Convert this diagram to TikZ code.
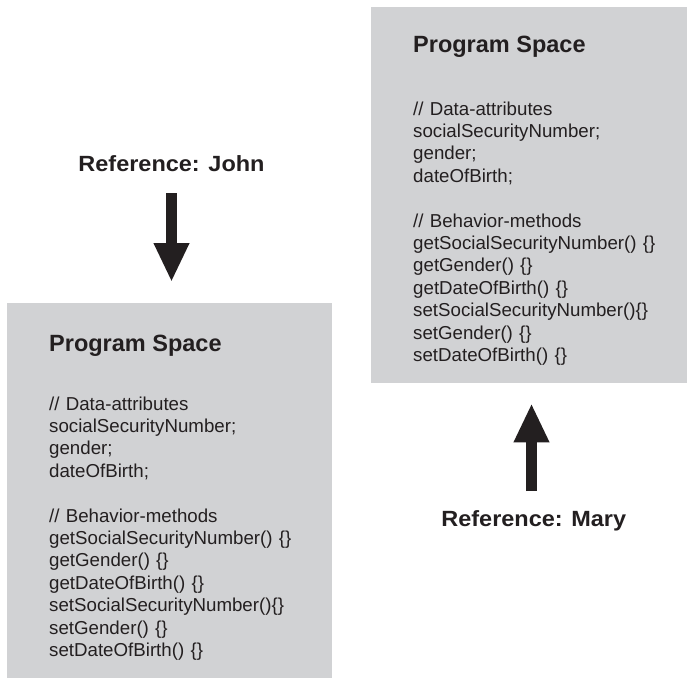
\documentclass[tikz,border=0pt]{standalone}
\usepackage{fontspec}
\setmainfont{Liberation Sans}
\usetikzlibrary{arrows.meta}
\definecolor{boxgray}{RGB}{209,210,212}
\definecolor{ink}{RGB}{35,31,32}
\tikzset{
  spacebox/.style={fill=boxgray, draw=none, inner sep=0pt, anchor=north west,
    minimum width=325pt, minimum height=376pt},
  title/.style={anchor=base west, inner sep=0pt, text=ink,
    font=\fontsize{23.5pt}{28pt}\selectfont\bfseries},
  body/.style={anchor=base west, inner sep=0pt, text=ink, text width=300pt, align=left,
    font=\fontsize{18.7pt}{22.4pt}\selectfont},
  reflabel/.style={anchor=base, inner sep=0pt, text=ink,
    font=\fontsize{22pt}{26pt}\selectfont\bfseries},
  fatarrow/.style={draw=ink, line width=10.5pt, -{Triangle[length=39pt,width=33pt]}},
}
\newcommand{\spacetext}{// Data-attributes\\
socialSecurityNumber;\\
gender;\\
dateOfBirth;\\[22.4pt]
// Behavior-methods\\
getSocialSecurityNumber() \{\}\\
getGender() \{\}\\
getDateOfBirth() \{\}\\
setSocialSecurityNumber()\{\}\\
setGender() \{\}\\
setDateOfBirth() \{\}}
\begin{document}
\begin{tikzpicture}[x=1pt,y=-1pt]
\useasboundingbox (0,0) rectangle (687,678);
\fill[white] (0,0) rectangle (687,678);
% right program space
\node[spacebox, minimum width=316pt] (rightbox) at (371,7) {};
\node[title] (righttitle) at (413,52) {Program Space};
\node[body] (rightbody) at (413,115) {\spacetext};
% left program space
\node[spacebox, minimum height=375pt] (leftbox) at (7,303) {};
\node[title] (lefttitle) at (49,351.5) {Program Space};
\node[body] (leftbody) at (49,410) {\spacetext};
% references
\node[reflabel] (john) at (171.5,171.7) {\scalebox{1.067}[1]{Reference: John}};
\node[reflabel] (mary) at (533.8,526) {\scalebox{1.067}[1]{Reference: Mary}};
\coordinate (maryfoot) at (531.5,491);
\draw[fatarrow, shorten <=21.3pt, shorten >=21pt] (john.south) -- (john.south |- leftbox.north);
\draw[fatarrow, shorten >=20pt] (maryfoot) -- (maryfoot |- rightbox.south);
\end{tikzpicture}
\end{document}
